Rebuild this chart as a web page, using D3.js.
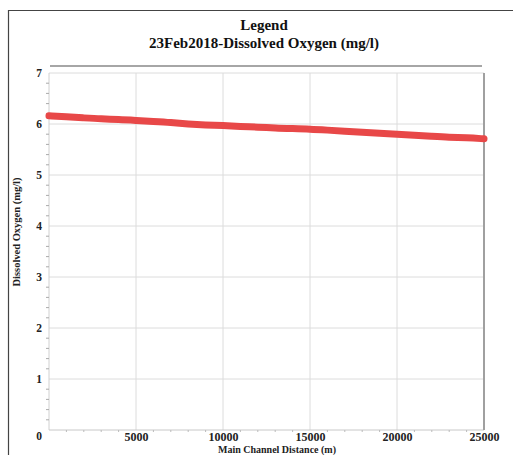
<!DOCTYPE html>
<html><head><meta charset="utf-8">
<script src="https://cdn.jsdelivr.net/npm/d3@7/dist/d3.min.js"></script>
<style>body{margin:0;background:#fff;} svg{display:block;}</style>
</head><body>
<script>
const titleLines = ["Legend", "23Feb2018-Dissolved Oxygen (mg/l)"];
const xLabel = "Main Channel Distance (m)";
const yLabel = "Dissolved Oxygen (mg/l)";
const distance = [0,1000,2000,3000,4000,5000,6000,7000,8000,9000,10000,11000,12000,13000,14000,15000,16000,17000,18000,19000,20000,21000,22000,23000,24000,25000];
const oxygen = [6.16,6.14,6.12,6.10,6.09,6.07,6.05,6.03,6.00,5.98,5.97,5.95,5.94,5.92,5.91,5.90,5.88,5.86,5.84,5.82,5.80,5.78,5.76,5.74,5.73,5.71];
const xTicks = [0,5000,10000,15000,20000,25000];
const yTicks = [0,1,2,3,4,5,6,7];

const W = 513, H = 455;
const m = {left:49, right:484, top:73, bottom:430};
const svg = d3.select("body").append("svg").attr("width", W).attr("height", H);
const font = "'Liberation Serif','Times New Roman',serif";

// outer frame
svg.append("path").attr("d", `M8.5,${H+2} V10.5 H${W+2}`).attr("fill","none").attr("stroke","#444").attr("stroke-width",1.2);

const x = d3.scaleLinear().domain([0,25000]).range([m.left, m.right]);
const y = d3.scaleLinear().domain([0,7]).range([m.bottom, m.top]);

// titles
svg.append("text").attr("x",264).attr("y",30).attr("text-anchor","middle")
  .attr("font-family",font).attr("font-weight","bold").attr("font-size",15).attr("fill","#111").text(titleLines[0]);
svg.append("text").attr("x",264).attr("y",48).attr("text-anchor","middle")
  .attr("font-family",font).attr("font-weight","bold").attr("font-size",15).attr("fill","#111").text(titleLines[1]);
// legend separator line
svg.append("line").attr("x1",50).attr("x2",482).attr("y1",66).attr("y2",66).attr("stroke","#888").attr("stroke-width",1.5);

// grid
const g = svg.append("g");
g.selectAll(".hg").data(yTicks.filter(d=>d>0)).join("line")
  .attr("x1",m.left).attr("x2",m.right).attr("y1",d=>y(d)).attr("y2",d=>y(d))
  .attr("stroke","#dcdcdc").attr("stroke-width",1);
g.selectAll(".vg").data(xTicks.filter(d=>d>0 && d<25000)).join("line")
  .attr("x1",d=>x(d)).attr("x2",d=>x(d)).attr("y1",m.top).attr("y2",m.bottom)
  .attr("stroke","#dcdcdc").attr("stroke-width",1);
// plot frame
g.append("line").attr("x1",m.left).attr("x2",m.left).attr("y1",m.top).attr("y2",m.bottom).attr("stroke","#d0d0d0");
g.append("line").attr("x1",m.left).attr("x2",m.right).attr("y1",m.bottom).attr("y2",m.bottom).attr("stroke","#c8c8c8");
g.append("line").attr("x1",m.right).attr("x2",m.right).attr("y1",m.top).attr("y2",m.bottom).attr("stroke","#a0a0a0").attr("stroke-width",2);

// minor ticks
const yMinor = d3.range(0,7.001,0.2).filter(v=>Math.abs(v-Math.round(v))>0.01);
g.selectAll(".ym").data(yMinor).join("line")
  .attr("x1",m.left-3).attr("x2",m.left).attr("y1",d=>y(d)).attr("y2",d=>y(d)).attr("stroke","#aaa");
const xMinor = d3.range(1000,25000,1000).filter(v=>v%5000!==0);
g.selectAll(".xm").data(xMinor).join("line")
  .attr("x1",d=>x(d)).attr("x2",d=>x(d)).attr("y1",m.bottom).attr("y2",m.bottom+2).attr("stroke","#bbb");

// axes labels via d3 axes
const yAxis = svg.append("g").attr("transform",`translate(${m.left},0)`)
  .call(d3.axisLeft(y).tickValues(yTicks).tickSize(0).tickPadding(7).tickFormat(d3.format("d")));
yAxis.select(".domain").remove();
yAxis.selectAll("text").attr("font-family",font).attr("font-weight","bold").attr("font-size",11.5).attr("fill","#222")
  .attr("dy", d => d===0 ? "0.85em" : "0.32em");
const xAxis = svg.append("g").attr("transform",`translate(0,${m.bottom})`)
  .call(d3.axisBottom(x).tickValues(xTicks.filter(d=>d>0)).tickSize(0).tickPadding(2).tickFormat(d3.format("d")));
xAxis.select(".domain").remove();
xAxis.selectAll("text").attr("font-family",font).attr("font-weight","bold").attr("font-size",12).attr("fill","#222");

svg.append("text").attr("x",277).attr("y",453).attr("text-anchor","middle")
  .attr("font-family",font).attr("font-weight","bold").attr("font-size",10).attr("fill","#222").text(xLabel);
svg.append("text").attr("transform","translate(20,232) rotate(-90)").attr("text-anchor","middle")
  .attr("font-family",font).attr("font-weight","bold").attr("font-size",10.5).attr("fill","#222").text(yLabel);

// data line
const line = d3.line().x((d,i)=>x(distance[i])).y(d=>y(d)).curve(d3.curveBasis);
svg.append("path").datum(oxygen).attr("d",line).attr("fill","none")
  .attr("stroke","#e84848").attr("stroke-width",7).attr("stroke-linecap","round");
</script>
</body></html>
